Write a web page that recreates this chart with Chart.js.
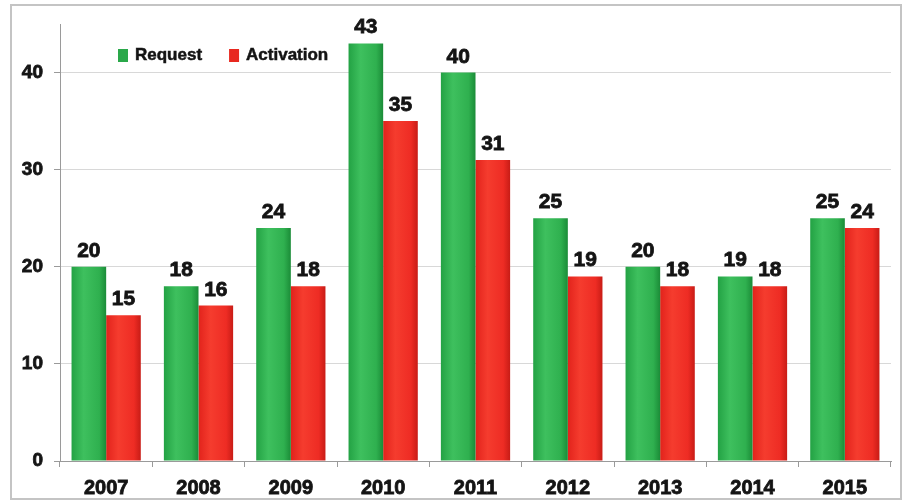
<!DOCTYPE html>
<html>
<head>
<meta charset="utf-8">
<style>
  html, body { margin: 0; padding: 0; background: #fff; }
  #wrap { position: relative; width: 904px; height: 504px; }
</style>
<script src="https://cdn.jsdelivr.net/npm/chart.js@4/dist/chart.umd.min.js"></script>
</head>
<body>
<div id="wrap"><canvas id="c" width="904" height="504"></canvas></div>
<script>
const years = ['2007', '2008', '2009', '2010', '2011', '2012', '2013', '2014', '2015'];
const requests = [20, 18, 24, 43, 40, 25, 20, 19, 25];
const activations = [15, 16, 18, 35, 31, 19, 18, 18, 24];
const yTicks = [0, 10, 20, 30, 40];

const FONT = '"Liberation Sans", Arial, sans-serif';
const INK = '#141414';
const CAT_PCT = 0.75;

// per-bar horizontal shading, like the cylinder look of the original
const greenStops = ['#23a244', '#3ec05e', '#2fb04f', '#1b8c38'];
const redStops = ['#e2231c', '#f53c2e', '#ee2c24', '#c81c16'];

function barFill(stops, side) {
  return c => {
    const chart = c.chart;
    const xs = chart.scales.x;
    if (!xs || c.dataIndex === undefined || !isFinite(xs.width) || !chart.chartArea) return stops[1];
    const catW = xs.width / years.length;
    const barW = catW * CAT_PCT / 2;
    const center = xs.getPixelForValue(c.dataIndex);
    if (!isFinite(center) || !isFinite(barW)) return stops[1];
    const x0 = side === 0 ? center - barW : center;
    const g = chart.ctx.createLinearGradient(x0, 0, x0 + barW, 0);
    g.addColorStop(0, stops[0]);
    g.addColorStop(0.35, stops[1]);
    g.addColorStop(0.8, stops[2]);
    g.addColorStop(1, stops[3]);
    return g;
  };
}

const frame = {
  id: 'frame',
  beforeDraw(chart) {
    const ctx = chart.ctx;
    ctx.save();
    ctx.fillStyle = '#fff';
    ctx.fillRect(0, 0, chart.width, chart.height);
    ctx.strokeStyle = '#c4c4c4';
    ctx.lineWidth = 2;
    ctx.strokeRect(11, 5, 890, 494);
    ctx.restore();
  }
};

const valueLabels = {
  id: 'valueLabels',
  afterDatasetsDraw(chart) {
    const ctx = chart.ctx;
    ctx.save();
    ctx.font = 'bold 21px ' + FONT;
    ctx.fillStyle = INK;
    ctx.strokeStyle = INK;
    ctx.lineWidth = 0.8;
    ctx.textAlign = 'center';
    ctx.textBaseline = 'alphabetic';
    chart.data.datasets.forEach((ds, i) => {
      chart.getDatasetMeta(i).data.forEach((bar, j) => {
        ctx.fillText(ds.data[j], bar.x, bar.y - 10);
        ctx.strokeText(ds.data[j], bar.x, bar.y - 10);
      });
    });
    ctx.restore();
  }
};

const innerLegend = {
  id: 'innerLegend',
  afterDraw(chart) {
    const ctx = chart.ctx;
    ctx.save();
    ctx.font = 'bold 17px ' + FONT;
    ctx.textBaseline = 'middle';
    ctx.lineWidth = 0.5;
    let x = 118;
    const y = 55;
    chart.data.datasets.forEach(ds => {
      ctx.fillStyle = ds.legendColor;
      ctx.fillRect(x, y - 6, 10, 13);
      ctx.fillStyle = INK;
      ctx.strokeStyle = INK;
      ctx.fillText(ds.label, x + 17, y);
      ctx.strokeText(ds.label, x + 17, y);
      x += 17 + ctx.measureText(ds.label).width + 27;
    });
    ctx.restore();
  }
};

new Chart(document.getElementById('c'), {
  type: 'bar',
  data: {
    labels: years,
    datasets: [
      { label: 'Request', data: requests, backgroundColor: barFill(greenStops, 0), legendColor: '#2aa84a' },
      { label: 'Activation', data: activations, backgroundColor: barFill(redStops, 1), legendColor: '#e8281f' }
    ]
  },
  options: {
    responsive: false,
    animation: false,
    devicePixelRatio: 1,
    layout: { padding: { top: 24, left: 12, right: 13, bottom: 8 } },
    datasets: { bar: { categoryPercentage: CAT_PCT, barPercentage: 1, borderWidth: 0 } },
    plugins: { legend: { display: false }, tooltip: { enabled: false } },
    scales: {
      x: {
        grid: { display: true, drawOnChartArea: false, offset: true, tickLength: 6, color: '#9a9a9a' },
        border: { color: '#9a9a9a', width: 1 },
        ticks: {
          color: INK, font: { family: FONT, size: 20, weight: 'bold' }, padding: 9,
          textStrokeColor: INK, textStrokeWidth: 0.8
        },
        afterFit: s => { s.height = 35; }
      },
      y: {
        min: 0,
        max: 45,
        afterBuildTicks: s => { s.ticks = yTicks.map(v => ({ value: v })); },
        grid: { color: '#d8d8d8', tickLength: 6, tickColor: '#9a9a9a' },
        border: { color: '#9a9a9a', width: 1 },
        ticks: {
          color: INK, font: { family: FONT, size: 19, weight: 'bold' }, padding: 11,
          textStrokeColor: INK, textStrokeWidth: 0.8
        },
        afterFit: s => { s.width = 48; }
      }
    }
  },
  plugins: [frame, valueLabels, innerLegend]
});
</script>
</body>
</html>
